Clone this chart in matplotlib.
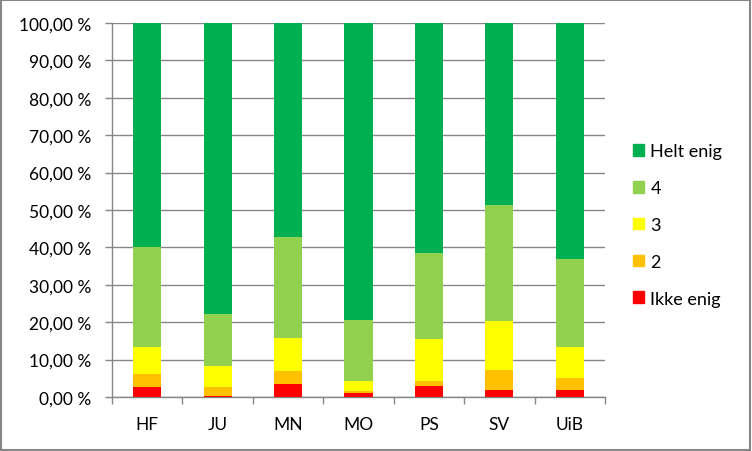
import numpy as np
import matplotlib.pyplot as plt
from matplotlib.patches import Patch
from matplotlib.ticker import FuncFormatter

plt.rcParams['font.family'] = ['Lato', 'DejaVu Sans']

groups = ['HF', 'JU', 'MN', 'MO', 'PS', 'SV', 'UiB']
labels = ['Ikke enig', '2', '3', '4', 'Helt enig']
colors = ['#FF0000', '#FFC000', '#FFFF00', '#92D050', '#00B050']

# andel i prosent per svaralternativ
ikke_enig = [2.75, 0.4, 3.55, 1.0, 3.0, 2.0, 2.0]
to = [3.45, 2.35, 3.45, 0.7, 1.35, 5.1, 3.15]
tre = [7.3, 5.6, 8.8, 2.7, 11.15, 13.2, 8.25]
fire = [26.6, 13.85, 26.9, 16.3, 23.0, 31.0, 23.5]
helt_enig = [59.9, 77.8, 57.3, 79.3, 61.5, 48.7, 63.1]

series = [ikke_enig, to, tre, fire, helt_enig]

fig = plt.figure(figsize=(7.52, 4.52), dpi=100)
ax = fig.add_axes([112/752, 1 - 398/452, (605-112)/752, (398-24)/452])

x = np.arange(len(groups))
bottom = np.zeros(len(groups))
for vals, lab, col in zip(series, labels, colors):
    ax.bar(x, vals, 0.4, bottom=bottom, color=col, label=lab, zorder=3)
    bottom += np.array(vals)

ax.set_xlim(-0.5, len(groups) - 0.5)
ax.set_ylim(0, 100)
ax.set_yticks(np.arange(0, 101, 10))
ax.yaxis.set_major_formatter(FuncFormatter(lambda v, p: f'{v:.2f}'.replace('.', ',') + ' %'))
ax.set_xticks(x)
ax.set_xticklabels(groups)
ax.set_xticks(np.arange(-0.5, len(groups)), minor=True)
ax.tick_params(axis='x', which='major', length=0, pad=14, labelsize=12.5)
ax.tick_params(axis='x', which='minor', length=5, color='#868686', width=1)
ax.tick_params(axis='y', length=5, color='#868686', width=1, labelsize=12.5, pad=10)
ax.grid(axis='y', color='#868686', linewidth=1, zorder=0)
for s in ['top', 'right']:
    ax.spines[s].set_visible(False)
for s in ['left', 'bottom']:
    ax.spines[s].set_color('#868686')
    ax.spines[s].set_linewidth(1)

handles = [Patch(color=c, label=l) for c, l in zip(colors, labels)][::-1]
fig.legend(handles=handles, loc='center left', bbox_to_anchor=(626/752, 1 - 226/452),
           frameon=False, fontsize=13, handlelength=0.6, handleheight=0.6,
           handletextpad=0.35, labelspacing=1.15, borderaxespad=0)

fig.patches.append(plt.Rectangle((0.001, 0.002), 0.997, 0.996, transform=fig.transFigure,
                                 fill=False, edgecolor='#868686', linewidth=1.5))

fig.savefig('out.png', dpi=100)
